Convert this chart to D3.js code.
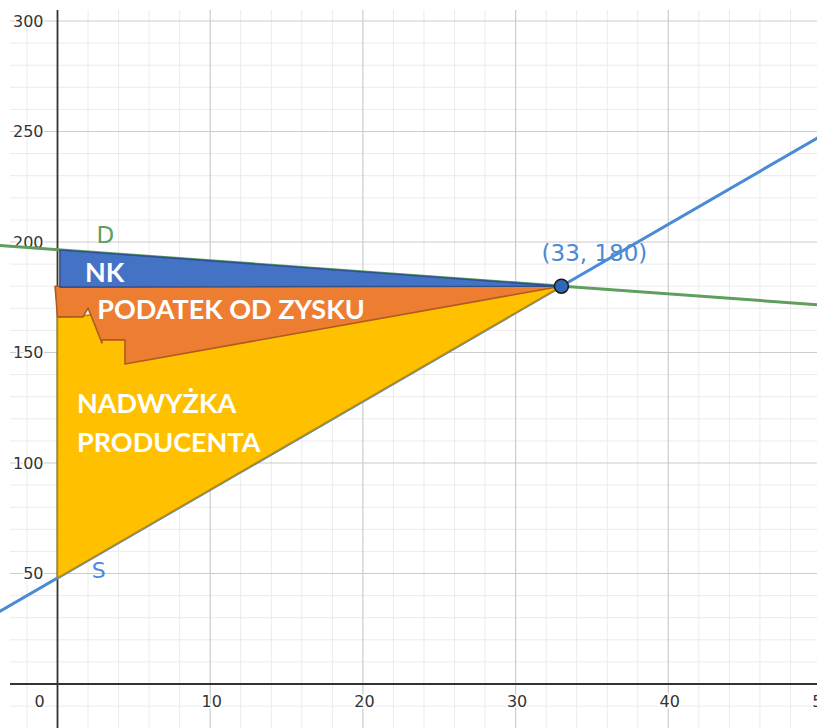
<!DOCTYPE html>
<html><head><meta charset="utf-8">
<script src="https://cdn.jsdelivr.net/npm/d3@7"></script>
<style>html,body{margin:0;padding:0;background:#fff;}svg{display:block;}</style>
</head><body>
<svg id="c" width="817" height="728"></svg>
<script>
// ---- data ----
const xTicks = [10, 20, 30, 40, 50];
const yTicks = [50, 100, 150, 200, 250, 300];
const xMinor = [-2, 2, 4, 6, 8, 12, 14, 16, 18, 22, 24, 26, 28, 32, 34, 36, 38, 42, 44, 46, 48];
const yMinor = [-10, 10, 20, 30, 40, 60, 70, 80, 90, 110, 120, 130, 140, 160, 170, 180, 190, 210, 220, 230, 240, 260, 270, 280, 290];
const demandLine = [[-4, 198.5], [51, 171]];
const supplyLine = [[-4, 32], [51, 252]];
const surplusArea = [[0, 48], [33, 180], [0, 166]];
const taxArea = [[-0.16, 180], [33, 180], [4.42, 144.8], [4.42, 155.7], [2.91, 155.7], [2.91, 154.3], [2.0, 170.1], [1.67, 166.1], [0, 166.1]];
const nkArea = [[0.16, 196.4], [33, 180], [0.16, 179.6]];
const equilibrium = [33, 180];
const areaLabels = [
  {text: "NK", x: 1.8, y: 181.8},
  {text: "PODATEK OD ZYSKU", x: 2.6, y: 165.3},
  {text: "NADWYŻKA", x: 1.28, y: 122.6},
  {text: "PRODUCENTA", x: 1.28, y: 105}
];

(function () {
// ---- scales ----
const W = 817, H = 728;
const x = d3.scaleLinear().domain([0, 50]).range([57.5, 821]);
const y = d3.scaleLinear().domain([0, 300]).range([684, 21]);
const svg = d3.select("#c");
const gLeft = 10, gTop = 10;

// grid
const g = svg.append("g");
g.selectAll(".vm").data(xMinor).join("line")
  .attr("x1", d => x(d)).attr("x2", d => x(d)).attr("y1", gTop).attr("y2", H)
  .attr("stroke", "#ebebeb").attr("stroke-width", 1);
g.selectAll(".hm").data(yMinor).join("line")
  .attr("y1", d => y(d)).attr("y2", d => y(d)).attr("x1", gLeft).attr("x2", W)
  .attr("stroke", "#ebebeb").attr("stroke-width", 1);
g.selectAll(".vM").data(xTicks).join("line")
  .attr("x1", d => x(d)).attr("x2", d => x(d)).attr("y1", gTop).attr("y2", H)
  .attr("stroke", "#cccccc").attr("stroke-width", 1.2);
g.selectAll(".hM").data(yTicks).join("line")
  .attr("y1", d => y(d)).attr("y2", d => y(d)).attr("x1", gLeft).attr("x2", W)
  .attr("stroke", "#cccccc").attr("stroke-width", 1.2);

// axes
svg.append("line").attr("x1", x(0)).attr("x2", x(0)).attr("y1", gTop).attr("y2", H)
  .attr("stroke", "#333").attr("stroke-width", 1.8);
svg.append("line").attr("x1", gLeft).attr("x2", W).attr("y1", y(0)).attr("y2", y(0))
  .attr("stroke", "#333").attr("stroke-width", 1.8);

// tick labels
const tickFont = "'DejaVu Sans', sans-serif";
svg.selectAll(".yl").data(yTicks).join("text")
  .attr("x", x(0) - 14).attr("y", d => y(d)).attr("dy", "0.35em")
  .attr("text-anchor", "end").attr("font-family", tickFont).attr("font-size", 16)
  .attr("fill", "#333").attr("stroke", "#fff").attr("stroke-width", 3).attr("paint-order", "stroke")
  .text(d => d);
svg.selectAll(".xl").data(xTicks).join("text")
  .attr("x", d => x(d) + 1.5).attr("y", y(0) + 23)
  .attr("text-anchor", "middle").attr("font-family", tickFont).attr("font-size", 16)
  .attr("fill", "#333").attr("stroke", "#fff").attr("stroke-width", 3).attr("paint-order", "stroke")
  .text(d => d);
svg.append("text").attr("x", x(0) - 18).attr("y", y(0) + 23).attr("text-anchor", "middle")
  .attr("font-family", tickFont).attr("font-size", 16).attr("fill", "#333")
  .attr("stroke", "#fff").attr("stroke-width", 3).attr("paint-order", "stroke").text("0");

// lines
const line = d3.line().x(d => x(d[0])).y(d => y(d[1]));
svg.append("path").attr("d", line(demandLine)).attr("stroke", "#5e9f5e").attr("stroke-width", 3).attr("fill", "none");
svg.append("path").attr("d", line(supplyLine)).attr("stroke", "#4a8ad6").attr("stroke-width", 3).attr("fill", "none");

// areas
const poly = pts => line(pts) + "Z";
svg.append("path").attr("d", poly(surplusArea)).attr("fill", "#FFC000").attr("stroke", "#BC8C00").attr("stroke-width", 1.6).attr("stroke-linejoin", "round");
svg.append("path").attr("d", poly(taxArea)).attr("fill", "#ED7D31").attr("stroke", "#AE5A21").attr("stroke-width", 1.6).attr("stroke-linejoin", "round");
svg.append("path").attr("d", poly(nkArea)).attr("fill", "#4472C4").attr("stroke", "#2F528F").attr("stroke-width", 1.6).attr("stroke-linejoin", "round");

// equilibrium point
svg.append("circle").attr("cx", x(equilibrium[0])).attr("cy", y(equilibrium[1])).attr("r", 7)
  .attr("fill", "#2f68b8").attr("stroke", "#1a1a1a").attr("stroke-width", 1.5);

// area labels
svg.selectAll(".al").data(areaLabels).join("text")
  .attr("x", d => x(d.x)).attr("y", d => y(d.y))
  .attr("font-family", "Lato, 'Open Sans', sans-serif").attr("font-weight", 700).attr("font-size", 27)
  .attr("fill", "#fff").text(d => d.text);

// line labels
const lblFont = "'DejaVu Sans', sans-serif";
svg.append("text").attr("x", x(2.55)).attr("y", y(199.5)).attr("font-family", lblFont).attr("font-size", 23).attr("fill", "#5e9f5e").text("D");
svg.append("text").attr("x", x(2.25)).attr("y", y(48)).attr("font-family", lblFont).attr("font-size", 22).attr("fill", "#4a8ad6").text("S");
svg.append("text").attr("x", x(31.7)).attr("y", y(191.3)).attr("font-family", lblFont).attr("font-size", 23).attr("fill", "#4a8ad6")
  .text("(" + equilibrium[0] + ", " + equilibrium[1] + ")");
})();
</script>
</body></html>
